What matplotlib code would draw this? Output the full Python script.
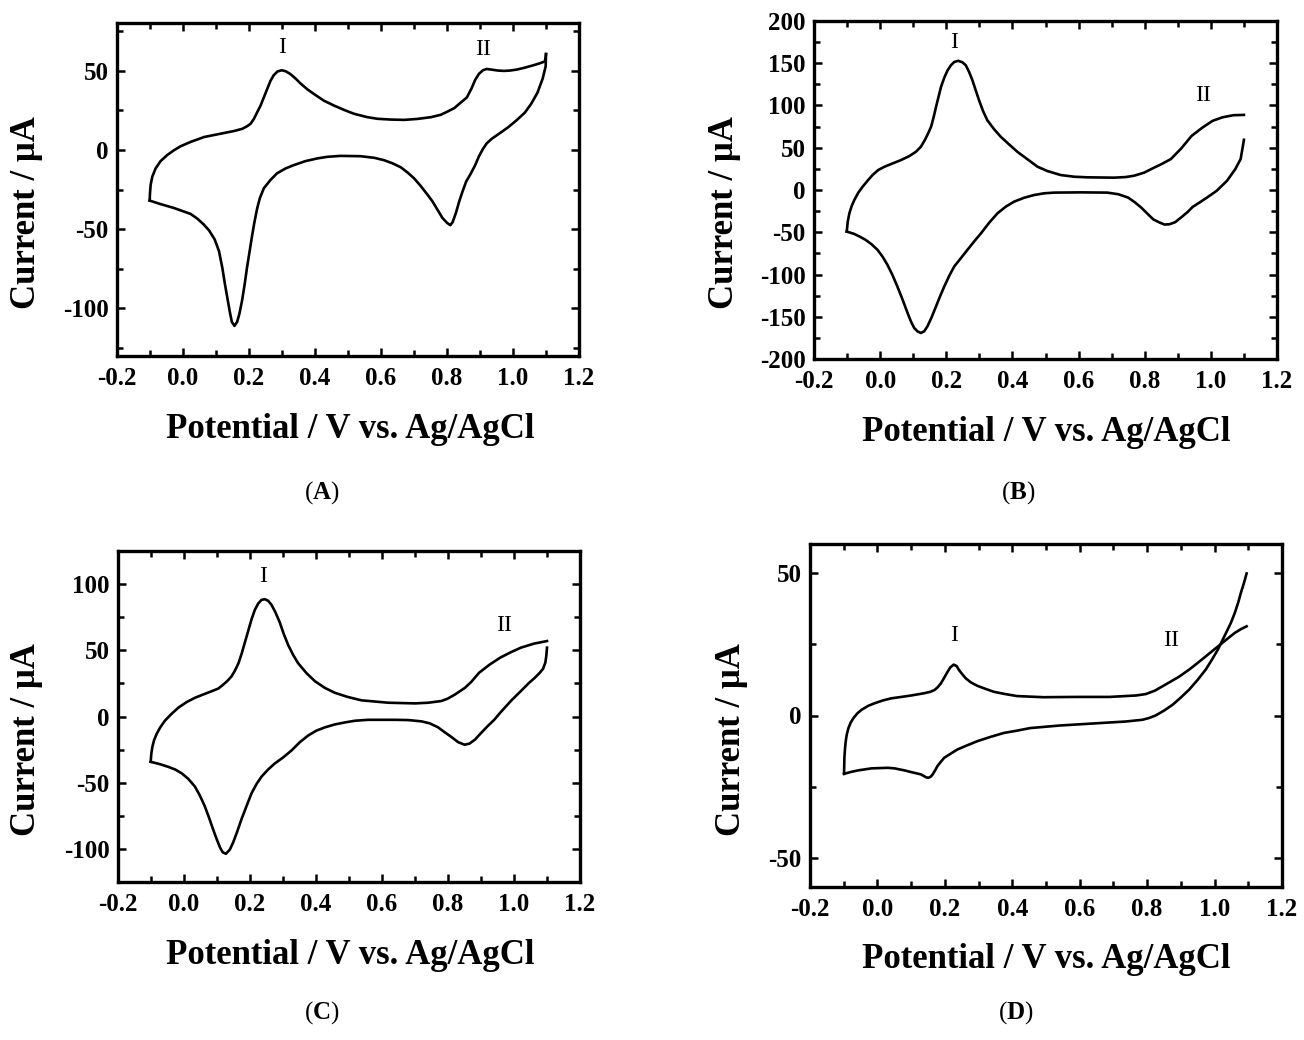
import matplotlib
matplotlib.use('Agg')
import matplotlib.pyplot as plt
from matplotlib.ticker import MultipleLocator, FixedLocator

plt.rcParams['font.family'] = ['Liberation Serif', 'DejaVu Serif']
plt.rcParams['axes.unicode_minus'] = False
plt.rcParams['mathtext.fontset'] = 'custom'
plt.rcParams['mathtext.rm'] = 'Liberation Serif'
plt.rcParams['mathtext.bf'] = 'Liberation Serif:bold'

# ---------------- data ----------------
A_fwd_x = [-0.101, -0.100, -0.098, -0.093, -0.083, -0.068, -0.048, -0.027, -0.007, 0.023, 0.064, 0.114, 0.155, 0.180, 0.195, 0.205, 0.215, 0.225, 0.235, 0.245, 0.255, 0.265, 0.275, 0.286, 0.299, 0.311, 0.326, 0.341, 0.356, 0.376, 0.397, 0.427, 0.458, 0.488, 0.519, 0.559, 0.589, 0.630, 0.670, 0.710, 0.751, 0.781, 0.802, 0.822, 0.837, 0.860, 0.875, 0.885, 0.897, 0.909, 0.920, 0.935, 0.955, 0.973, 0.990, 1.011, 1.035, 1.061, 1.080, 1.097, 1.100]
A_fwd_y = [-32.0, -27.3, -22.0, -16.9, -11.7, -7.1, -3.3, -0.2, 2.3, 5.0, 8.1, 10.2, 11.9, 13.3, 15.0, 16.5, 19.6, 23.8, 27.9, 33.1, 38.3, 43.5, 47.1, 49.4, 50.2, 49.6, 47.7, 45.0, 41.9, 38.3, 35.2, 31.0, 27.9, 25.2, 22.7, 20.6, 19.6, 19.1, 18.9, 19.5, 20.6, 22.1, 24.2, 26.3, 29.0, 33.0, 39.0, 44.0, 48.0, 50.2, 51.0, 50.6, 50.0, 49.8, 50.0, 50.6, 51.8, 53.3, 54.5, 55.8, 60.4]
A_rev_x = [1.100, 1.099, 1.090, 1.074, 1.055, 1.036, 1.010, 0.985, 0.960, 0.935, 0.920, 0.909, 0.897, 0.885, 0.872, 0.858, 0.847, 0.837, 0.827, 0.817, 0.810, 0.800, 0.786, 0.771, 0.756, 0.741, 0.720, 0.700, 0.680, 0.660, 0.635, 0.609, 0.579, 0.538, 0.477, 0.437, 0.407, 0.371, 0.336, 0.311, 0.285, 0.265, 0.245, 0.233, 0.225, 0.217, 0.210, 0.202, 0.194, 0.187, 0.179, 0.171, 0.164, 0.156, 0.148, 0.142, 0.134, 0.127, 0.119, 0.109, 0.096, 0.079, 0.063, 0.043, 0.023, -0.027, -0.068, -0.101]
A_rev_y = [60.4, 52.7, 45.0, 36.0, 29.0, 23.5, 18.5, 14.2, 10.5, 6.9, 4.0, 0.6, -4.0, -9.8, -15.0, -20.0, -26.3, -32.5, -39.8, -45.6, -47.5, -46.0, -42.9, -37.7, -32.5, -28.3, -22.7, -17.9, -14.2, -11.0, -8.5, -6.5, -5.0, -4.0, -3.8, -4.4, -5.4, -7.1, -9.6, -11.7, -14.8, -19.0, -24.2, -30.4, -36.7, -45.0, -53.3, -63.8, -74.2, -84.6, -95.0, -103.3, -108.5, -111.0, -108.5, -102.3, -92.9, -84.6, -74.2, -63.8, -56.5, -50.8, -47.1, -43.3, -40.4, -36.7, -34.2, -32.0]

B_fwd_x = [-0.101, -0.098, -0.093, -0.086, -0.078, -0.066, -0.053, -0.038, -0.023, -0.006, 0.013, 0.038, 0.063, 0.088, 0.108, 0.123, 0.135, 0.145, 0.154, 0.162, 0.169, 0.177, 0.184, 0.194, 0.204, 0.214, 0.224, 0.236, 0.249, 0.259, 0.269, 0.279, 0.289, 0.299, 0.311, 0.324, 0.345, 0.365, 0.390, 0.415, 0.446, 0.476, 0.506, 0.546, 0.587, 0.627, 0.707, 0.742, 0.768, 0.798, 0.824, 0.850, 0.879, 0.910, 0.942, 0.975, 1.005, 1.035, 1.068, 1.100]
B_fwd_y = [-49.2, -37.4, -27.5, -18.9, -11.8, -3.1, 3.9, 11.0, 17.7, 23.6, 27.5, 31.5, 35.4, 40.1, 45.2, 51.1, 59.0, 66.9, 74.8, 86.6, 98.4, 111.0, 122.0, 133.0, 141.7, 147.6, 151.5, 152.9, 151.1, 147.6, 139.7, 129.9, 118.0, 106.3, 93.6, 82.6, 71.7, 62.9, 53.9, 45.2, 36.2, 27.5, 22.4, 17.7, 15.7, 15.0, 14.6, 15.3, 16.9, 20.5, 25.6, 30.5, 36.6, 49.0, 64.1, 74.0, 81.8, 86.0, 88.5, 88.9]
B_rev_x = [1.100, 1.096, 1.090, 1.074, 1.049, 1.018, 0.990, 0.967, 0.945, 0.929, 0.910, 0.892, 0.875, 0.860, 0.845, 0.826, 0.808, 0.790, 0.770, 0.750, 0.720, 0.687, 0.607, 0.526, 0.496, 0.466, 0.436, 0.405, 0.380, 0.355, 0.330, 0.305, 0.284, 0.264, 0.244, 0.224, 0.209, 0.194, 0.181, 0.169, 0.156, 0.143, 0.133, 0.123, 0.113, 0.103, 0.093, 0.083, 0.068, 0.052, 0.037, 0.022, 0.007, -0.008, -0.026, -0.044, -0.062, -0.079, -0.101]
B_rev_y = [59.4, 50.0, 36.6, 24.8, 11.0, -0.8, -8.5, -14.5, -20.0, -26.3, -32.5, -38.1, -40.5, -40.9, -38.5, -34.8, -28.0, -21.0, -14.5, -9.0, -5.0, -3.1, -2.8, -3.1, -3.9, -5.9, -9.1, -13.8, -19.7, -27.5, -38.6, -51.2, -61.0, -70.8, -80.7, -90.5, -101.5, -114.1, -126.0, -137.7, -150.3, -161.4, -167.3, -169.2, -167.3, -163.3, -155.5, -145.6, -129.9, -114.1, -100.4, -88.5, -78.7, -70.8, -64.2, -59.0, -55.1, -51.9, -49.2]

C_fwd_x = [-0.101, -0.099, -0.096, -0.091, -0.083, -0.072, -0.058, -0.039, -0.017, 0.008, 0.033, 0.058, 0.084, 0.104, 0.119, 0.132, 0.144, 0.154, 0.165, 0.175, 0.185, 0.195, 0.205, 0.215, 0.225, 0.235, 0.245, 0.255, 0.265, 0.277, 0.290, 0.302, 0.316, 0.331, 0.346, 0.371, 0.397, 0.427, 0.457, 0.497, 0.538, 0.619, 0.700, 0.740, 0.780, 0.800, 0.821, 0.851, 0.870, 0.894, 0.925, 0.958, 0.990, 1.021, 1.060, 1.100]
C_fwd_y = [-34.2, -28.0, -23.1, -18.1, -13.2, -8.2, -3.2, 1.7, 6.7, 10.9, 14.1, 16.6, 19.1, 21.1, 24.1, 27.0, 30.3, 34.5, 40.2, 47.7, 56.4, 65.0, 73.7, 80.7, 85.4, 88.1, 88.6, 87.4, 84.4, 78.7, 71.2, 62.5, 53.8, 46.4, 40.2, 32.8, 26.6, 21.6, 17.9, 14.7, 12.2, 10.4, 9.9, 10.4, 11.7, 13.6, 16.6, 21.6, 26.0, 33.0, 39.0, 44.4, 48.5, 52.0, 55.0, 57.0]
C_rev_x = [1.100, 1.098, 1.095, 1.088, 1.078, 1.062, 1.046, 1.020, 0.995, 0.975, 0.958, 0.940, 0.920, 0.900, 0.882, 0.865, 0.850, 0.831, 0.811, 0.790, 0.770, 0.745, 0.720, 0.680, 0.639, 0.558, 0.518, 0.487, 0.457, 0.427, 0.401, 0.376, 0.351, 0.326, 0.300, 0.275, 0.255, 0.235, 0.220, 0.205, 0.190, 0.174, 0.161, 0.149, 0.139, 0.127, 0.117, 0.109, 0.099, 0.088, 0.076, 0.063, 0.048, 0.033, 0.013, -0.007, -0.027, -0.048, -0.073, -0.101]
C_rev_y = [52.0, 46.0, 40.7, 36.0, 33.0, 29.0, 25.5, 19.0, 12.9, 7.5, 2.8, -2.5, -7.3, -12.5, -17.4, -20.5, -21.3, -19.4, -15.6, -11.9, -8.2, -5.2, -3.7, -2.7, -2.5, -2.5, -3.2, -4.5, -6.0, -8.2, -10.7, -14.4, -19.4, -25.6, -31.0, -35.5, -40.0, -45.4, -50.9, -57.8, -67.3, -77.7, -87.1, -95.1, -100.5, -103.7, -102.5, -98.8, -92.6, -85.1, -76.5, -67.8, -59.6, -52.9, -47.1, -42.9, -40.0, -38.0, -36.0, -34.2]

D_fwd_x = [-0.099, -0.098, -0.096, -0.094, -0.091, -0.086, -0.079, -0.071, -0.060, -0.047, -0.027, -0.008, 0.017, 0.041, 0.071, 0.100, 0.139, 0.157, 0.169, 0.178, 0.188, 0.198, 0.208, 0.216, 0.226, 0.235, 0.242, 0.252, 0.262, 0.277, 0.296, 0.321, 0.345, 0.379, 0.414, 0.492, 0.590, 0.688, 0.767, 0.796, 0.823, 0.863, 0.895, 0.925, 0.950, 0.974, 1.000, 1.023, 1.045, 1.060, 1.078, 1.095]
D_fwd_y = [-20.4, -14.8, -11.4, -9.0, -6.7, -4.4, -2.4, -0.9, 0.7, 2.0, 3.4, 4.3, 5.3, 6.0, 6.5, 7.0, 7.8, 8.3, 8.9, 9.8, 11.2, 13.2, 15.3, 16.8, 17.8, 17.3, 15.9, 14.4, 13.0, 11.6, 10.4, 9.3, 8.3, 7.5, 6.8, 6.4, 6.5, 6.5, 7.0, 7.5, 8.7, 11.4, 13.6, 16.1, 18.4, 20.7, 23.2, 25.4, 27.5, 28.9, 30.2, 31.2]
D_rev_x = [1.095, 1.087, 1.078, 1.070, 1.060, 1.048, 1.034, 1.022, 1.010, 0.992, 0.974, 0.950, 0.925, 0.900, 0.876, 0.850, 0.825, 0.805, 0.786, 0.737, 0.639, 0.541, 0.453, 0.414, 0.375, 0.335, 0.296, 0.267, 0.237, 0.218, 0.198, 0.188, 0.178, 0.171, 0.164, 0.158, 0.151, 0.144, 0.129, 0.100, 0.080, 0.051, 0.031, -0.018, -0.057, -0.077, -0.099]
D_rev_y = [49.7, 46.3, 42.9, 39.5, 35.9, 32.3, 28.9, 26.0, 23.1, 19.5, 16.1, 12.5, 9.1, 6.3, 3.8, 1.7, 0.0, -0.9, -1.5, -2.1, -2.8, -3.5, -4.4, -5.3, -6.1, -7.5, -9.0, -10.4, -11.9, -13.3, -14.8, -16.2, -17.7, -19.2, -20.6, -21.4, -21.8, -21.6, -20.6, -19.8, -19.2, -18.5, -18.3, -18.5, -19.2, -19.7, -20.4]

x_ticks = [-0.2, 0.0, 0.2, 0.4, 0.6, 0.8, 1.0, 1.2]
x_ticklabels = ['-0.2', '0.0', '0.2', '0.4', '0.6', '0.8', '1.0', '1.2']
A_yticks = [-100, -50, 0, 50]
B_yticks = [-200, -150, -100, -50, 0, 50, 100, 150, 200]
C_yticks = [-100, -50, 0, 50, 100]
D_yticks = [-50, 0, 50]
A_ylim = (-130, 80)
B_ylim = (-200, 200)
C_ylim = (-125, 125)
D_ylim = (-60, 60)

A_peaks = [(0.299, 64.4, 'I'), (0.91, 63.5, 'II')]
B_peaks = [(0.224, 174, 'I'), (0.976, 112, 'II')]
C_peaks = [(0.24, 106, 'I'), (0.97, 68.4, 'II')]
D_peaks = [(0.228, 28, 'I'), (0.872, 26.2, 'II')]

xlabel_text = 'Potential / V vs. Ag/AgCl'
ylabel_text = 'Current / \u03bcA'
panel_letters = ['A', 'B', 'C', 'D']

# ---------------- layout (pixels) ----------------
W, H = 1304, 1040
fig = plt.figure(figsize=(W / 100, H / 100), dpi=100)

panels = [
    dict(box=(117, 23, 579, 356), fx=A_fwd_x, fy=A_fwd_y, rx=A_rev_x, ry=A_rev_y,
         yt=A_yticks, yl=A_ylim, pk=A_peaks, name=panel_letters[0],
         xlab=(350, 430), ylab=(27, 213), nlab=(322, 493)),
    dict(box=(814, 21, 1277, 359), fx=B_fwd_x, fy=B_fwd_y, rx=B_rev_x, ry=B_rev_y,
         yt=B_yticks, yl=B_ylim, pk=B_peaks, name=panel_letters[1],
         xlab=(1046, 432), ylab=(725, 213), nlab=(1018, 493)),
    dict(box=(118, 551, 580, 882), fx=C_fwd_x, fy=C_fwd_y, rx=C_rev_x, ry=C_rev_y,
         yt=C_yticks, yl=C_ylim, pk=C_peaks, name=panel_letters[2],
         xlab=(350, 955), ylab=(27, 740), nlab=(322, 1013)),
    dict(box=(810, 544, 1282, 887), fx=D_fwd_x, fy=D_fwd_y, rx=D_rev_x, ry=D_rev_y,
         yt=D_yticks, yl=D_ylim, pk=D_peaks, name=panel_letters[3],
         xlab=(1046, 960), ylab=(731, 740), nlab=(1016, 1013)),
]

for p in panels:
    l, t, r, b = p['box']
    ax = fig.add_axes([l / W, 1 - b / H, (r - l) / W, (b - t) / H])
    ax.plot(p['fx'], p['fy'], color='black', lw=1.9, solid_joinstyle='round')
    ax.plot(p['rx'], p['ry'], color='black', lw=1.9, solid_joinstyle='round')
    ax.set_xlim(-0.2, 1.2)
    ax.set_ylim(*p['yl'])
    ax.xaxis.set_major_locator(FixedLocator(x_ticks))
    ax.set_xticklabels(x_ticklabels)
    ax.xaxis.set_minor_locator(MultipleLocator(0.1))
    ax.yaxis.set_major_locator(FixedLocator(p['yt']))
    ax.set_yticklabels([str(v) for v in p['yt']])
    ax.yaxis.set_minor_locator(MultipleLocator(25))
    ax.tick_params(which='both', direction='in', top=True, right=True, width=1.8)
    ax.tick_params(which='major', length=6)
    ax.tick_params(which='minor', length=4)
    ax.tick_params(axis='x', which='major', pad=8)
    ax.tick_params(axis='y', which='major', pad=6)
    for lab in ax.get_xticklabels() + ax.get_yticklabels():
        lab.set_fontsize(18)
        lab.set_fontweight('bold')
    for s in ax.spines.values():
        s.set_linewidth(2.4)
    for (px, py, txt) in p['pk']:
        ax.text(px, py, txt, fontsize=17, ha='center', va='center')
    xl, yl_ = p['xlab']
    fig.text(xl / W, 1 - yl_ / H, xlabel_text, fontsize=25, fontweight='bold',
             ha='center', va='center')
    xl, yl_ = p['ylab']
    fig.text(xl / W, 1 - yl_ / H, ylabel_text, fontsize=25, fontweight='bold',
             ha='center', va='center', rotation=90)
    xl, yl_ = p['nlab']
    fig.text(xl / W, 1 - yl_ / H, '($\\mathbf{' + p['name'] + '}$)', fontsize=18,
             ha='center', va='center')

fig.savefig('out.png', dpi=100)
